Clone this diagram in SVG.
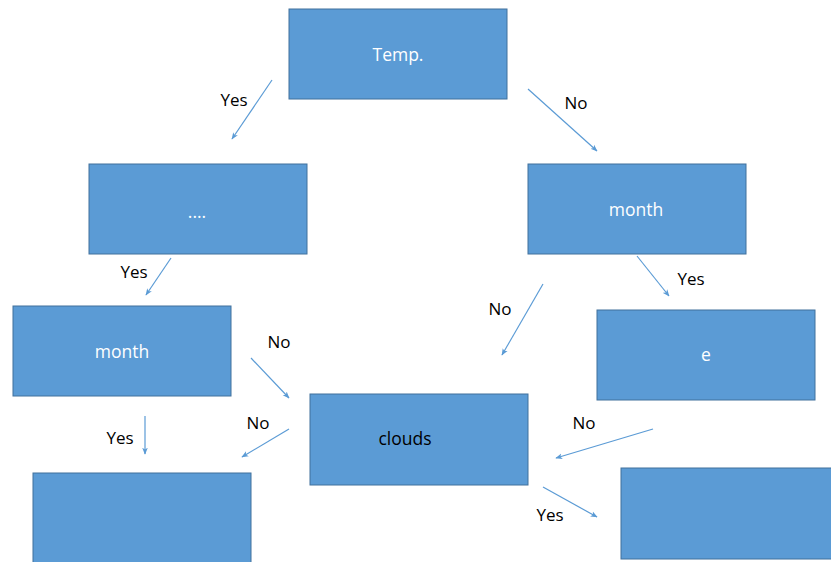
<svg xmlns="http://www.w3.org/2000/svg" width="831" height="562" viewBox="0 0 831 562">
  <style>
    .box { fill: #5B9BD5; stroke: #41719C; stroke-width: 1; }
    .in { font-family: "Open Sans", "Liberation Sans", sans-serif; font-size: 17.5px; fill: #ffffff; text-anchor: middle; }
    .dark { fill: #000000; }
    .lbl { font-family: "Open Sans", "Liberation Sans", sans-serif; font-size: 17px; fill: #000000; text-anchor: middle; }
    .edge { stroke: #5B9BD5; stroke-width: 1.2; fill: none; marker-end: url(#head); }
  </style>
  <defs>
    <marker id="head" viewBox="0 0 10 10" refX="9" refY="5" markerWidth="7" markerHeight="7" orient="auto" markerUnits="userSpaceOnUse">
      <path d="M0,1 L10,5 L0,9 L2.5,5 Z" fill="#5B9BD5"/>
    </marker>
  </defs>
  <rect width="831" height="562" fill="#ffffff"/>

  <g id="temp">
    <rect class="box" x="289" y="9" width="218" height="90"/>
    <text class="in" x="398" y="61">Temp.</text>
  </g>
  <g id="dots">
    <rect class="box" x="89" y="164" width="218" height="90"/>
    <text class="in" x="197" y="218">....</text>
  </g>
  <g id="month-right">
    <rect class="box" x="528" y="164" width="218" height="90"/>
    <text class="in" x="636" y="216">month</text>
  </g>
  <g id="month-left">
    <rect class="box" x="13" y="306" width="218" height="90"/>
    <text class="in" x="122" y="358">month</text>
  </g>
  <g id="e">
    <rect class="box" x="597" y="310" width="218" height="90"/>
    <text class="in" x="706" y="361">e</text>
  </g>
  <g id="clouds">
    <rect class="box" x="310" y="394" width="218" height="91"/>
    <text class="in dark" x="405" y="445">clouds</text>
  </g>
  <g id="leaf-left">
    <rect class="box" x="33" y="473" width="218" height="92"/>
  </g>
  <g id="leaf-right">
    <rect class="box" x="621" y="468" width="218" height="91"/>
  </g>

  <g id="connectors">
    <line class="edge" x1="272" y1="80" x2="232" y2="139"/>
    <line class="edge" x1="528" y1="89" x2="597" y2="151"/>
    <line class="edge" x1="171" y1="258" x2="146" y2="295"/>
    <line class="edge" x1="637" y1="256" x2="669" y2="296"/>
    <line class="edge" x1="543" y1="284" x2="502" y2="355"/>
    <line class="edge" x1="251" y1="358" x2="289" y2="398"/>
    <line class="edge" x1="145" y1="416" x2="145" y2="454"/>
    <line class="edge" x1="289" y1="429" x2="242" y2="457"/>
    <line class="edge" x1="653" y1="429" x2="556" y2="458"/>
    <line class="edge" x1="543" y1="487" x2="597" y2="517"/>
  </g>

  <g id="edge-labels">
    <text class="lbl" x="234" y="106">Yes</text>
    <text class="lbl" x="576" y="109">No</text>
    <text class="lbl" x="134" y="278">Yes</text>
    <text class="lbl" x="691" y="285">Yes</text>
    <text class="lbl" x="500" y="315">No</text>
    <text class="lbl" x="279" y="348">No</text>
    <text class="lbl" x="120" y="444">Yes</text>
    <text class="lbl" x="258" y="429">No</text>
    <text class="lbl" x="584" y="429">No</text>
    <text class="lbl" x="550" y="521">Yes</text>
  </g>
</svg>
